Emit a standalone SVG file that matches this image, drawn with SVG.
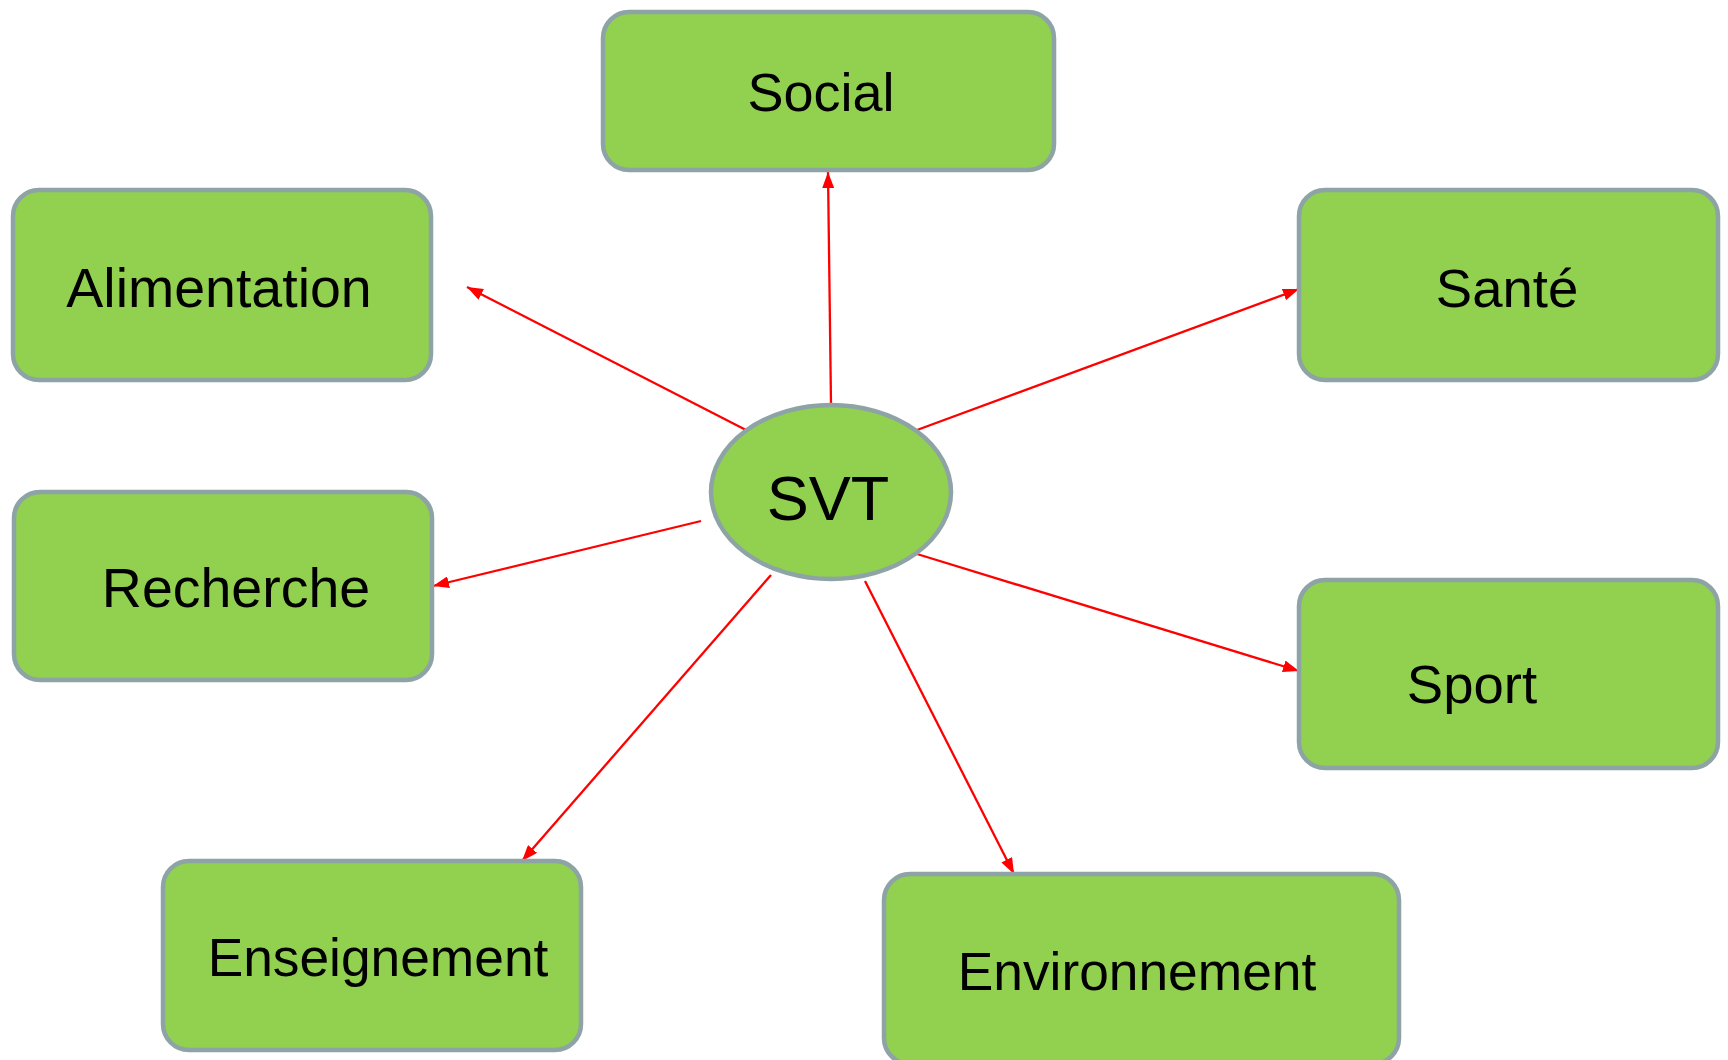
<svg xmlns="http://www.w3.org/2000/svg" width="1728" height="1060" viewBox="0 0 1728 1060">
<style>
.box{fill:#92D050;stroke:#8DA3A6;stroke-width:4.5}
.lbl{font-family:"Liberation Sans",Arial,sans-serif;font-size:54px;fill:#000;text-anchor:middle}
.conn{stroke:#FF0000;stroke-width:2.3;fill:none;marker-end:url(#arr)}
</style>
<defs>
<marker id="arr" markerUnits="userSpaceOnUse" markerWidth="16" markerHeight="12" refX="16" refY="6" orient="auto">
<path d="M0,0 L16,6 L0,12 z" fill="#FF0000"/>
</marker>
</defs>
<rect width="1728" height="1060" fill="#FFFFFF"/>
<g id="connectors">
<line class="conn" x1="831" y1="404" x2="828" y2="172"/>
<line class="conn" x1="746" y1="430" x2="467" y2="287"/>
<line class="conn" x1="917" y1="430" x2="1299" y2="289"/>
<line class="conn" x1="701" y1="521" x2="433" y2="586"/>
<line class="conn" x1="917" y1="554" x2="1299" y2="671"/>
<line class="conn" x1="771" y1="575" x2="522" y2="861"/>
<line class="conn" x1="865" y1="581" x2="1014" y2="874"/>
</g>
<g id="node-svt">
<ellipse class="box" cx="831" cy="492" rx="120" ry="87"/>
<text class="lbl" x="828" y="520" style="font-size:63px">SVT</text>
</g>
<g id="node-social">
<rect class="box" x="603" y="12" width="451" height="158" rx="26"/>
<text class="lbl" x="821" y="111">Social</text>
</g>
<g id="node-alimentation">
<rect class="box" x="13" y="190" width="418" height="190" rx="26"/>
<text class="lbl" x="219" y="307" style="font-size:55.5px">Alimentation</text>
</g>
<g id="node-sante">
<rect class="box" x="1299" y="190" width="419" height="190" rx="26"/>
<text class="lbl" x="1507" y="307" style="font-size:54.5px">Santé</text>
</g>
<g id="node-recherche">
<rect class="box" x="14" y="492" width="418" height="188" rx="26"/>
<text class="lbl" x="236" y="607" style="font-size:55.5px">Recherche</text>
</g>
<g id="node-sport">
<rect class="box" x="1299" y="580" width="419" height="188" rx="26"/>
<text class="lbl" x="1472" y="703" style="font-size:54.5px">Sport</text>
</g>
<g id="node-enseignement">
<rect class="box" x="163" y="861" width="418" height="189" rx="26"/>
<text class="lbl" x="378" y="976" style="font-size:53.3px">Enseignement</text>
</g>
<g id="node-environnement">
<rect class="box" x="884" y="874" width="515" height="190" rx="26"/>
<text class="lbl" x="1137" y="990" style="font-size:53.3px">Environnement</text>
</g>
</svg>
